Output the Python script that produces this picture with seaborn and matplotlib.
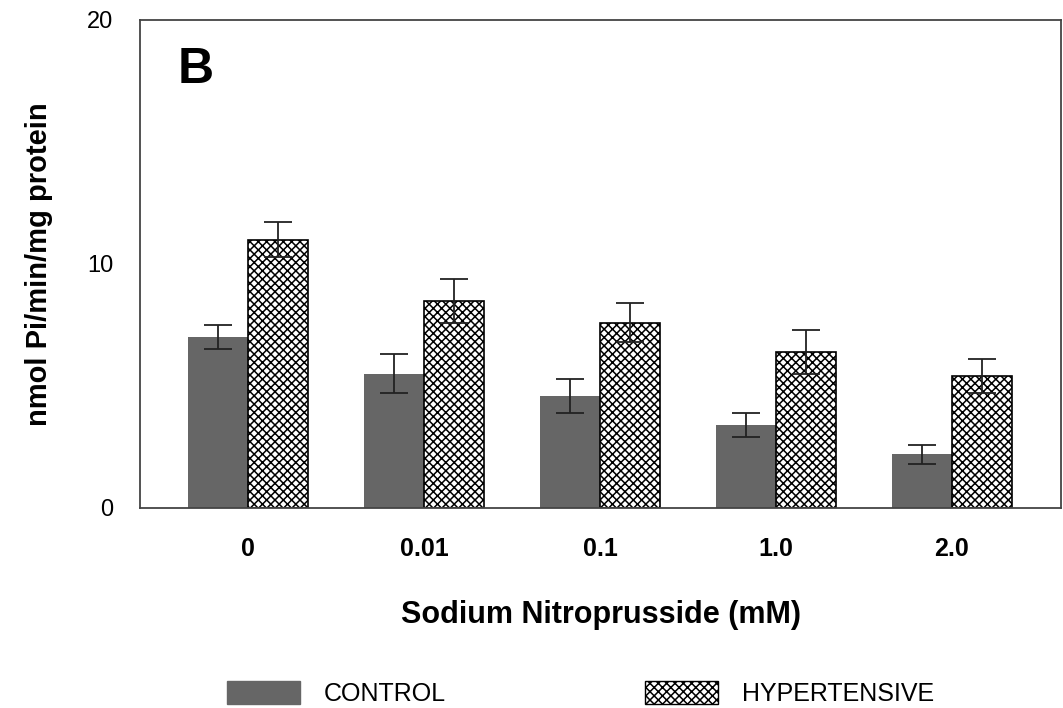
import numpy as np
import pandas as pd
import matplotlib
matplotlib.use("Agg")
import matplotlib.pyplot as plt
import seaborn as sns
from matplotlib.patches import Patch

# values
conc = ["0", "0.01", "0.1", "1.0", "2.0"]
control = [7.0, 5.5, 4.6, 3.4, 2.2]
control_err = [0.5, 0.8, 0.7, 0.5, 0.4]
hyper = [11.0, 8.5, 7.6, 6.4, 5.4]
hyper_err = [0.7, 0.9, 0.8, 0.9, 0.7]
groups = ["CONTROL", "HYPERTENSIVE"]

df = pd.DataFrame({
    "conc": conc * 2,
    "value": control + hyper,
    "group": [groups[0]] * len(conc) + [groups[1]] * len(conc),
})

sns.set_style("white")
plt.rcParams["font.family"] = ["Liberation Sans", "DejaVu Sans"]
plt.rcParams["hatch.linewidth"] = 1.1
plt.rcParams["text.color"] = "black"
plt.rcParams["axes.labelcolor"] = "black"
plt.rcParams["xtick.color"] = "black"
plt.rcParams["ytick.color"] = "black"

fig = plt.figure(figsize=(10.63, 7.08), dpi=100)
ax = fig.add_axes([0.1317, 0.2825, 0.8665, 0.6893])

sns.barplot(data=df, x="conc", y="value", hue="group", order=conc,
            hue_order=groups, palette=["#666666", "white"], width=0.68,
            saturation=1, errorbar=None, legend=False, ax=ax)

# control bars: flat grey, hypertensive: crosshatch
for bar in ax.containers[0]:
    bar.set_edgecolor("#666666")
    bar.set_linewidth(0)
for bar in ax.containers[1]:
    bar.set_facecolor("white")
    bar.set_edgecolor("black")
    bar.set_hatch("xxxx")
    bar.set_linewidth(1.2)

for cont, errs in zip(ax.containers, [control_err, hyper_err]):
    xs = [b.get_x() + b.get_width() / 2 for b in cont]
    ys = [b.get_height() for b in cont]
    ax.errorbar(xs, ys, yerr=errs, fmt="none", ecolor="#222222",
                elinewidth=1.3, capsize=10, capthick=1.3, zorder=5)

ax.set_xlim(-0.614, 4.62)
ax.set_ylim(0, 20)
ax.set_yticks([0, 10, 20])
ax.set_yticklabels(["0", "10", "20"], fontsize=17)
ax.tick_params(axis="y", direction="in", length=8, width=1.2, color="#333333", pad=19)
ax.tick_params(axis="x", length=0, pad=21)
for lab in ax.get_xticklabels():
    lab.set_fontsize(18)
    lab.set_fontweight("bold")
for s in ax.spines.values():
    s.set_color("#444444")
    s.set_linewidth(1.3)

ax.set_xlabel("Sodium Nitroprusside (mM)", fontsize=22, fontweight="bold", labelpad=28)
ax.set_ylabel("nmol Pi/min/mg protein", fontsize=21, fontweight="bold", labelpad=25)
ax.text(0.06, 0.897, "B", transform=ax.transAxes, fontsize=36, fontweight="bold",
        va="center", ha="center")

handles = [Patch(facecolor="#666666", edgecolor="#666666", label=groups[0]),
           Patch(facecolor="white", edgecolor="black", hatch="xxxx", label=groups[1])]
fig.legend(handles=handles, loc="center", bbox_to_anchor=(0.546, 0.021), ncol=2,
           frameon=False, fontsize=18, handlelength=2.9, handleheight=1.05,
           handletextpad=0.95, columnspacing=8.0)

fig.savefig("out.png", dpi=100)
